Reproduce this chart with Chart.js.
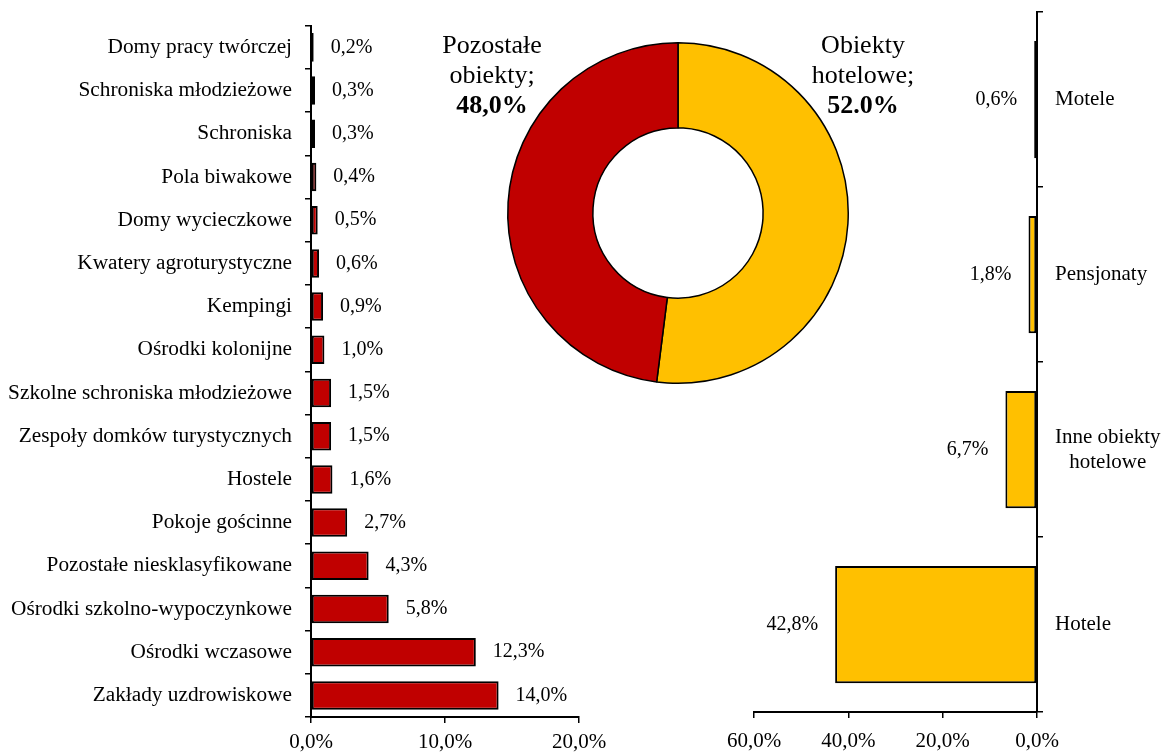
<!DOCTYPE html>
<html>
<head>
<meta charset="utf-8">
<script src="https://cdn.jsdelivr.net/npm/chart.js@4.4.0/dist/chart.umd.min.js"></script>
<style>
  body { margin: 0; background: #fff; }
  #wrap { position: relative; width: 1174px; height: 753px; }
  canvas { position: absolute; }
</style>
</head>
<body>
<div id="wrap">
  <canvas id="leftChart" width="640" height="753" style="left:0;top:0"></canvas>
  <canvas id="rightChart" width="474" height="753" style="left:700px;top:0"></canvas>
  <canvas id="pieChart" width="520" height="400" style="left:420px;top:0"></canvas>
</div>
<script>
// data
const otherLabels = [
  "Domy pracy twórczej", "Schroniska młodzieżowe", "Schroniska", "Pola biwakowe",
  "Domy wycieczkowe", "Kwatery agroturystyczne", "Kempingi", "Ośrodki kolonijne",
  "Szkolne schroniska młodzieżowe", "Zespoły domków turystycznych", "Hostele",
  "Pokoje gościnne", "Pozostałe niesklasyfikowane", "Ośrodki szkolno-wypoczynkowe",
  "Ośrodki wczasowe", "Zakłady uzdrowiskowe"
];
const otherValues = [0.2, 0.3, 0.3, 0.4, 0.5, 0.6, 0.9, 1.0, 1.5, 1.5, 1.6, 2.7, 4.3, 5.8, 12.3, 14.0];

const hotelLabels = ["Motele", "Pensjonaty", ["Inne obiekty", "hotelowe"], "Hotele"];
const hotelValues = [0.6, 1.8, 6.7, 42.8];

const shareLabels = [["Obiekty", "hotelowe;", "52.0%"], ["Pozostałe", "obiekty;", "48,0%"]];
const shareValues = [52.0, 48.0];

const leftTicks = [0, 10, 20];
const rightTicks = [0, 20, 40, 60];

const RED = "#C00000";
const YELLOW = "#FFC000";
const FONT = "'Liberation Serif', 'Times New Roman', serif";

Chart.defaults.font.family = FONT;
Chart.defaults.color = "#000";
Chart.defaults.animation = false;

const fmt = v => v.toFixed(1).replace(".", ",") + "%";

// value labels next to the bar ends
const valueLabels = {
  id: "valueLabels",
  afterDatasetsDraw(chart, args, opts) {
    const ctx = chart.ctx;
    const meta = chart.getDatasetMeta(0);
    ctx.save();
    ctx.font = "20px " + FONT;
    ctx.fillStyle = "#000";
    ctx.textBaseline = "middle";
    ctx.textAlign = opts.side === "left" ? "right" : "left";
    meta.data.forEach((bar, i) => {
      const v = chart.data.datasets[0].data[i];
      const x = opts.side === "left" ? bar.x - 17 : bar.x + 17;
      ctx.fillText(fmt(v), x, bar.y);
    });
    ctx.restore();
  }
};

// right-side category labels, multi-line centred inside their block
const sideLabels = {
  id: "sideLabels",
  afterDraw(chart, args, opts) {
    const ctx = chart.ctx;
    const y = chart.scales.y;
    ctx.save();
    ctx.font = "21px " + FONT;
    ctx.fillStyle = "#000";
    ctx.textBaseline = "middle";
    ctx.textAlign = "center";
    chart.data.labels.forEach((lab, i) => {
      const lines = Array.isArray(lab) ? lab : [lab];
      const w = Math.max(...lines.map(l => ctx.measureText(l).width));
      const cy = y.getPixelForValue(i);
      const lh = 25;
      lines.forEach((l, j) => {
        ctx.fillText(l, opts.x + w / 2, cy + (j - (lines.length - 1) / 2) * lh);
      });
    });
    ctx.restore();
  }
};

// left bar chart
new Chart(document.getElementById("leftChart"), {
  type: "bar",
  data: {
    labels: otherLabels,
    datasets: [{
      data: otherValues,
      backgroundColor: RED,
      borderColor: "#000",
      borderWidth: 2,
      borderSkipped: false,
      barPercentage: 0.66,
      categoryPercentage: 1
    }]
  },
  options: {
    indexAxis: "y",
    responsive: false,
    layout: { padding: { top: 15, right: 61, left: 0, bottom: 0 } },
    plugins: { legend: { display: false }, tooltip: { enabled: false }, valueLabels: { side: "right" } },
    scales: {
      x: {
        min: 0, max: 20,
        afterBuildTicks: s => { s.ticks = leftTicks.map(v => ({ value: v })); },
        ticks: { callback: v => fmt(v), font: { size: 21 }, padding: 7, maxRotation: 0 },
        grid: { drawOnChartArea: false, color: "#000", lineWidth: 1.5, tickLength: 6 },
        border: { color: "#000", width: 2 },
        afterFit: s => { s.height = 36; }
      },
      y: {
        ticks: { font: { size: 21.3 }, padding: 13 },
        grid: { drawOnChartArea: false, color: "#000", lineWidth: 1.5, tickLength: 6 },
        border: { color: "#000", width: 2 },
        afterFit: s => { s.width = 311; }
      }
    }
  },
  plugins: [valueLabels]
});

// right bar chart (reversed axis)
new Chart(document.getElementById("rightChart"), {
  type: "bar",
  data: {
    labels: hotelLabels,
    datasets: [{
      data: hotelValues,
      backgroundColor: YELLOW,
      borderColor: "#000",
      borderWidth: 2,
      borderSkipped: false,
      barPercentage: 0.67,
      categoryPercentage: 1
    }]
  },
  options: {
    indexAxis: "y",
    responsive: false,
    layout: { padding: { top: 12, right: 0, left: 54, bottom: 0 } },
    plugins: { legend: { display: false }, tooltip: { enabled: false }, valueLabels: { side: "left" }, sideLabels: { x: 355 } },
    scales: {
      x: {
        reverse: true,
        min: 0, max: 60,
        afterBuildTicks: s => { s.ticks = rightTicks.map(v => ({ value: v })); },
        ticks: { callback: v => fmt(v), font: { size: 21 }, padding: 11, maxRotation: 0 },
        grid: { drawOnChartArea: false, color: "#000", lineWidth: 1.5, tickLength: 6 },
        border: { color: "#000", width: 2 },
        afterFit: s => { s.height = 41; }
      },
      y: {
        position: "right",
        ticks: { display: false },
        grid: { drawOnChartArea: false, color: "#000", lineWidth: 1.5, tickLength: 6 },
        border: { color: "#000", width: 2 },
        afterFit: s => { s.width = 137; }
      }
    }
  },
  plugins: [valueLabels, sideLabels]
});

// doughnut with outside labels
const pieLabels = {
  id: "pieLabels",
  afterDraw(chart) {
    const ctx = chart.ctx;
    const pos = [443, 72];
    ctx.save();
    ctx.fillStyle = "#000";
    ctx.textAlign = "center";
    ctx.textBaseline = "middle";
    chart.data.labels.forEach((lines, i) => {
      lines.forEach((l, j) => {
        ctx.font = (j === lines.length - 1 ? "bold " : "") + "26px " + FONT;
        ctx.fillText(l, pos[i], 46 + j * 30);
      });
    });
    ctx.restore();
  }
};

new Chart(document.getElementById("pieChart"), {
  type: "doughnut",
  data: {
    labels: shareLabels,
    datasets: [{
      data: shareValues,
      backgroundColor: [YELLOW, RED],
      borderColor: "#000",
      borderWidth: 1.5
    }]
  },
  options: {
    responsive: false,
    cutout: "50%",
    layout: { padding: { top: 42, left: 87, right: 91, bottom: 16 } },
    plugins: { legend: { display: false }, tooltip: { enabled: false } }
  },
  plugins: [pieLabels]
});
</script>
</body>
</html>
